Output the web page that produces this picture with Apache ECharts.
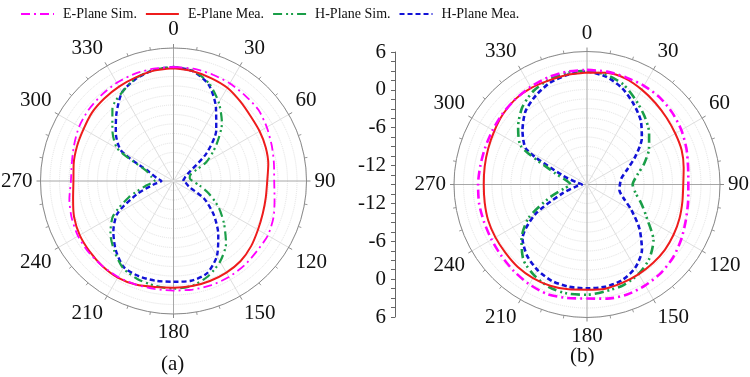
<!DOCTYPE html>
<html>
<head>
<meta charset="utf-8">
<script src="https://cdn.jsdelivr.net/npm/echarts@6/dist/echarts.min.js"></script>
<style>
  html, body { margin: 0; padding: 0; background: #fff; }
  #main { width: 750px; height: 377px; }
</style>
</head>
<body>
<div id="main"></div>
<script>
// angles in degrees, 0 at top, clockwise
var angles = [0, 10, 20, 30, 40, 50, 60, 70, 80, 90, 100, 110, 120, 130, 140, 150, 160, 170,
  180, 190, 200, 210, 220, 230, 240, 250, 260, 270, 280, 290, 300, 310, 320, 330, 340, 350];

// (a) gain in dB
var eSimA = [3.0, 3.0, 2.9, 2.8, 2.6, 2.5, 2.0, 1.5, 1.1, 0.9, 1.2, 1.8, 2.2, 2.2, 2.4, 2.5, 2.5, 2.4,
  2.3, 2.3, 2.4, 2.5, 2.5, 2.5, 2.4, 2.1, 1.7, 1.2, 1.3, 1.7, 2.2, 2.5, 2.7, 2.9, 3.0, 3.0];
var eMeaA = [2.8, 2.6, 2.3, 2.0, 1.4, 0.9, 0.7, 0.5, 0.2, -0.2, -0.2, 0.0, 0.4, 1.0, 1.5, 1.7, 1.8, 1.85,
  1.85, 2.0, 2.4, 2.6, 2.5, 2.3, 2.1, 1.7, 1.1, 0.8, 1.0, 1.2, 1.4, 1.8, 2.0, 2.2, 2.4, 2.7];
var hSimA = [3.0, 2.7, 1.4, -0.7, -3.1, -6.2, -9.0, -12.2, -12.4, -12.0, -10.8, -9.0, -6.8, -4.6, -2.1, -0.3, 1.0, 1.8,
  2.0, 1.8, 1.5, 0.9, -0.5, -2.0, -4.0, -7.5, -10.5, -12.0, -11.5, -10.5, -4.8, -2.4, 0.0, 1.2, 2.3, 2.8];
var hMeaA = [3.0, 2.6, 1.2, -1.6, -4.5, -8.2, -12.0, -13.0, -13.3, -13.5, -13.0, -12.4, -9.4, -6.7, -4.0, -1.3, 0.5, 1.0,
  0.9, 1.0, 1.0, 0.7, -0.8, -2.6, -4.8, -8.8, -11.8, -13.1, -12.3, -11.0, -5.5, -3.1, -1.0, 1.2, 2.2, 2.8];

// (b) gain in dB
var eSimB = [3.1, 3.1, 3.0, 3.0, 2.9, 2.6, 2.2, 1.7, 1.2, 1.0, 1.2, 1.6, 2.2, 2.8, 3.2, 3.4, 3.5, 3.3,
  3.0, 3.2, 3.4, 3.2, 2.9, 2.6, 2.4, 2.3, 2.3, 2.2, 2.1, 2.1, 2.2, 2.4, 2.6, 2.8, 3.0, 3.1];
var eMeaB = [2.7, 2.9, 2.8, 2.3, 1.8, 1.4, 1.1, 0.9, 0.5, 0.2, 0.3, 0.55, 0.8, 1.05, 1.2, 1.35, 1.5, 1.7,
  1.6, 1.8, 2.0, 2.05, 2.0, 1.8, 1.7, 1.6, 1.4, 1.3, 1.4, 1.6, 1.9, 2.3, 2.6, 2.6, 2.5, 2.6];
var hSimB = [3.0, 2.6, 1.8, 0.4, -0.9, -2.2, -3.7, -5.4, -7.0, -7.8, -7.2, -5.8, -4.0, -1.3, 0.3, 1.3, 1.9, 2.1,
  2.4, 2.5, 2.3, 1.6, 0.6, -1.5, -4.3, -8.5, -11.3, -12.4, -11.8, -9.5, -3.0, -0.8, 0.9, 2.0, 2.6, 2.9];
var hMeaB = [2.9, 2.3, 1.2, -0.3, -1.8, -3.7, -6.2, -8.3, -9.5, -9.8, -9.8, -8.9, -6.9, -4.2, -1.5, 0.2, 1.1, 1.4,
  1.4, 1.4, 1.2, 0.6, -0.3, -1.7, -5.5, -10.8, -13.3, -14.2, -13.5, -11.0, -4.0, -1.7, 0.1, 1.2, 2.1, 2.6];

var seriesNames = ["E-Plane Sim.", "E-Plane Mea.", "H-Plane Sim.", "H-Plane Mea."];
var angleLabels = ["0", "30", "60", "90", "120", "150", "180", "210", "240", "270", "300", "330"];
var scaleMin = -15, scaleMax = 6;

var serif = "'Liberation Serif', 'Times New Roman', serif";
var colors = ["#ff00ff", "#ee1c1c", "#1a9e48", "#1212d6"];
var dashes = [[9, 4, 2, 4], "solid", [9, 4, 2, 3, 2, 4], [5, 3]];

function pairs(vals) {
  var d = angles.map(function (a, i) { return [vals[i], a]; });
  d.push([vals[0], 360]);
  return d;
}

function angleAxis(i) {
  return {
    polarIndex: i,
    type: "value",
    min: 0,
    max: 360,
    interval: 30,
    startAngle: 90,
    clockwise: true,
    axisLine: { show: true, lineStyle: { color: "#8a8a8a", width: 1 } },
    axisTick: { show: true, length: 4, lineStyle: { color: "#8a8a8a" } },
    minorTick: { show: true, splitNumber: 3, length: 3, lineStyle: { color: "#9a9a9a" } },
    axisLabel: {
      margin: 8,
      fontSize: 21,
      fontFamily: serif,
      color: "#111",
      formatter: function (v) { return angleLabels[Math.round(v / 30) % 12]; }
    },
    splitLine: {
      show: true,
      lineStyle: { color: ["#a8a8a8", "#dedede", "#dedede"], width: 1 }
    }
  };
}

function radiusAxis(i) {
  return {
    polarIndex: i,
    type: "value",
    min: scaleMin,
    max: scaleMax,
    interval: 1.5,
    axisLine: { show: false },
    axisTick: { show: false },
    axisLabel: { show: false },
    splitLine: { show: true, lineStyle: { color: "#e2e2e2", type: "dotted" } }
  };
}

function plotSeries(i, sets, widths) {
  return sets.map(function (vals, k) {
    return {
      name: seriesNames[k],
      type: "line",
      coordinateSystem: "polar",
      polarIndex: i,
      data: pairs(vals),
      symbol: "none",
      smooth: 0.25,
      z: 10 - k,
      lineStyle: { color: colors[k], width: widths[k], type: dashes[k] },
      itemStyle: { color: colors[k] }
    };
  });
}

function scaleAxis(grid, inverse) {
  return {
    gridIndex: grid,
    type: "value",
    min: scaleMin,
    max: scaleMax,
    interval: 1.5,
    inverse: inverse,
    position: "left",
    axisLine: { show: true, lineStyle: { color: "#666" } },
    axisTick: { show: true, length: 4, lineStyle: { color: "#666" } },
    splitLine: { show: false },
    axisLabel: {
      margin: 9,
      fontSize: 21,
      fontFamily: serif,
      color: "#111",
      formatter: function (v) { return Math.abs(v % 6) < 1e-6 ? String(v) : ""; }
    }
  };
}

var myChart = echarts.init(document.getElementById("main"));

var option = {
  animation: false,
  backgroundColor: "#fff",
  legend: {
    data: seriesNames,
    left: 15,
    top: 2,
    itemWidth: 33,
    itemHeight: 14,
    itemGap: 8,
    itemStyle: { opacity: 0 },
    textStyle: { fontSize: 14, fontFamily: serif, color: "#111", padding: [0, 0, 0, 4] }
  },
  polar: [
    { center: [173.5, 181], radius: 133 },
    { center: [587, 184.5], radius: 133 }
  ],
  angleAxis: [angleAxis(0), angleAxis(1)],
  radiusAxis: [radiusAxis(0), radiusAxis(1)],
  // middle dB scale (mirrored)
  grid: [
    { left: 395, top: 52, width: 1, height: 132.5 },
    { left: 395, top: 184.5, width: 1, height: 132.5 }
  ],
  xAxis: [
    { gridIndex: 0, type: "value", show: false },
    { gridIndex: 1, type: "value", show: false }
  ],
  yAxis: [scaleAxis(0, false), scaleAxis(1, true)],
  graphic: [
    { type: "text", left: 161, top: 354, style: { text: "(a)", font: "21px " + serif, fill: "#111" } },
    { type: "text", left: 570, top: 346, style: { text: "(b)", font: "21px " + serif, fill: "#111" } }
  ],
  series: plotSeries(0, [eSimA, eMeaA, hSimA, hMeaA], [1.8, 2, 2.2, 2.4])
    .concat(plotSeries(1, [eSimB, eMeaB, hSimB, hMeaB], [2.6, 2, 2.6, 2.6]))
};

window.addEventListener("resize", function () {
  myChart.resize();
});
myChart.setOption(option);
</script>
</body>
</html>
